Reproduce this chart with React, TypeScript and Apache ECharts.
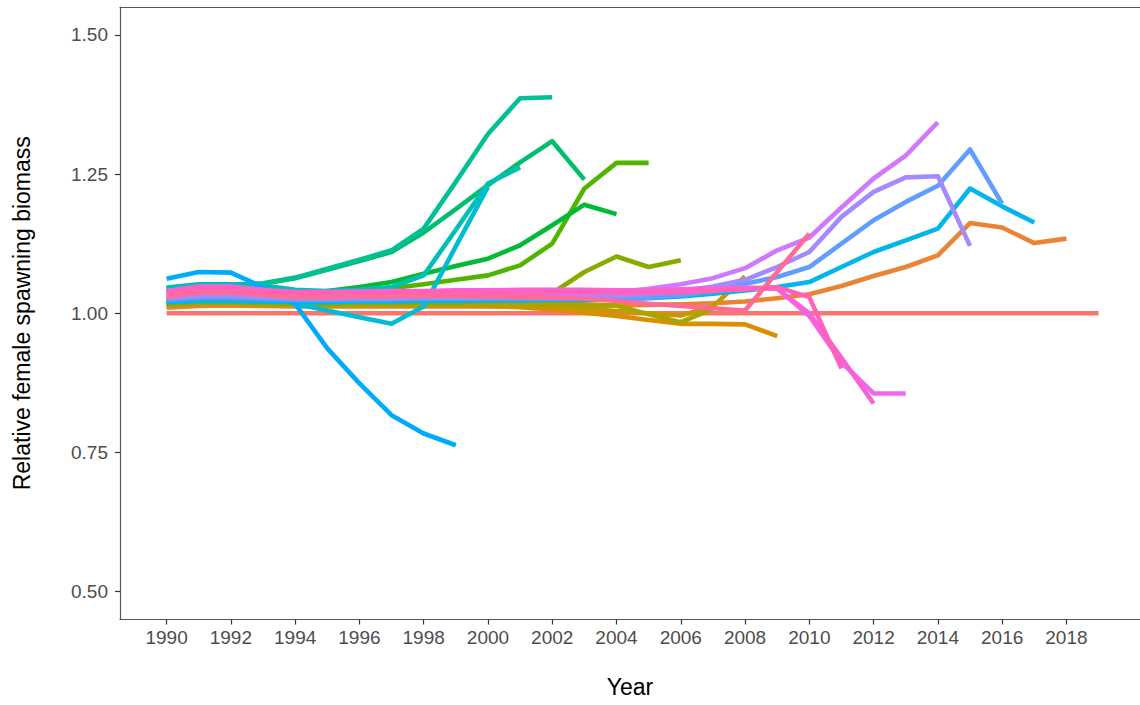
import React, { useEffect, useRef } from "react";
import * as echarts from "echarts";

const years = [1990, 1991, 1992, 1993, 1994, 1995, 1996, 1997, 1998, 1999, 2000, 2001, 2002, 2003, 2004, 2005, 2006, 2007, 2008, 2009, 2010, 2011, 2012, 2013, 2014, 2015, 2016, 2017, 2018, 2019];

const xTickValues = [1990, 1992, 1994, 1996, 1998, 2000, 2002, 2004, 2006, 2008, 2010, 2012, 2014, 2016, 2018];
const yTickValues = [0.5, 0.75, 1.0, 1.25, 1.5];

// Peel labels in the order the legend factor sorts them (as text)
const peelOrder = ["0", "1", "10", "11", "12", "13", "14", "15", "16", "17", "18", "19", "2", "20", "3", "4", "5", "6", "7", "8", "9"];

const peel0 = [1.0, 1.0, 1.0, 1.0, 1.0, 1.0, 1.0, 1.0, 1.0, 1.0, 1.0, 1.0, 1.0, 1.0, 1.0, 1.0, 1.0, 1.0, 1.0, 1.0, 1.0, 1.0, 1.0, 1.0, 1.0, 1.0, 1.0, 1.0, 1.0, 1.0];
const peel1 = [1.010, 1.013, 1.014, 1.013, 1.012, 1.012, 1.012, 1.012, 1.012, 1.012, 1.012, 1.012, 1.013, 1.013, 1.014, 1.015, 1.016, 1.018, 1.021, 1.027, 1.034, 1.049, 1.067, 1.083, 1.104, 1.162, 1.154, 1.126, 1.134];
const peel2 = [1.020, 1.022, 1.022, 1.021, 1.020, 1.020, 1.021, 1.021, 1.022, 1.022, 1.023, 1.023, 1.024, 1.024, 1.025, 1.027, 1.030, 1.035, 1.041, 1.047, 1.056, 1.083, 1.110, 1.131, 1.152, 1.224, 1.192, 1.163];
const peel3 = [1.024, 1.028, 1.028, 1.026, 1.024, 1.024, 1.025, 1.025, 1.026, 1.026, 1.026, 1.026, 1.026, 1.026, 1.026, 1.028, 1.032, 1.040, 1.053, 1.065, 1.083, 1.125, 1.167, 1.200, 1.229, 1.294, 1.197];
const peel4 = [1.027, 1.032, 1.032, 1.029, 1.027, 1.027, 1.028, 1.028, 1.029, 1.029, 1.029, 1.029, 1.030, 1.030, 1.031, 1.034, 1.040, 1.048, 1.060, 1.083, 1.110, 1.173, 1.218, 1.244, 1.246, 1.121];
const peel5 = [1.032, 1.038, 1.038, 1.034, 1.031, 1.031, 1.032, 1.033, 1.034, 1.034, 1.034, 1.035, 1.036, 1.036, 1.038, 1.044, 1.052, 1.063, 1.081, 1.113, 1.136, 1.190, 1.242, 1.283, 1.343];
const peel6 = [1.036, 1.044, 1.044, 1.039, 1.035, 1.035, 1.036, 1.037, 1.037, 1.038, 1.038, 1.039, 1.040, 1.040, 1.040, 1.041, 1.043, 1.045, 1.046, 1.045, 0.995, 0.912, 0.856, 0.856];
const peel7 = [1.040, 1.048, 1.048, 1.042, 1.038, 1.038, 1.039, 1.040, 1.040, 1.041, 1.041, 1.042, 1.042, 1.042, 1.041, 1.041, 1.042, 1.044, 1.045, 1.044, 1.000, 0.920, 0.838];
const peel8 = [1.037, 1.045, 1.045, 1.040, 1.036, 1.036, 1.037, 1.037, 1.038, 1.038, 1.038, 1.038, 1.038, 1.038, 1.037, 1.037, 1.038, 1.040, 1.043, 1.047, 1.029, 0.901];
const peel9 = [1.030, 1.037, 1.037, 1.033, 1.029, 1.029, 1.030, 1.030, 1.031, 1.031, 1.030, 1.029, 1.028, 1.026, 1.022, 1.017, 1.013, 1.009, 1.005, 1.074, 1.143];
const peel10 = [1.014, 1.017, 1.017, 1.015, 1.014, 1.014, 1.014, 1.014, 1.014, 1.014, 1.013, 1.011, 1.007, 1.001, 0.995, 0.988, 0.981, 0.981, 0.980, 0.959];
const peel11 = [1.015, 1.018, 1.018, 1.016, 1.015, 1.015, 1.015, 1.015, 1.015, 1.015, 1.015, 1.014, 1.012, 1.008, 1.004, 1.000, 0.996, 1.012, 1.066];
const peel12 = [1.016, 1.019, 1.019, 1.017, 1.016, 1.016, 1.016, 1.016, 1.016, 1.016, 1.016, 1.016, 1.016, 1.016, 1.014, 0.998, 0.984, 1.008];
const peel13 = [1.017, 1.020, 1.020, 1.018, 1.017, 1.017, 1.018, 1.018, 1.019, 1.020, 1.022, 1.026, 1.036, 1.074, 1.102, 1.083, 1.095];
const peel14 = [1.020, 1.024, 1.024, 1.022, 1.024, 1.030, 1.036, 1.045, 1.052, 1.060, 1.068, 1.086, 1.125, 1.224, 1.270, 1.270];
const peel15 = [1.022, 1.026, 1.026, 1.026, 1.032, 1.040, 1.047, 1.056, 1.071, 1.085, 1.098, 1.122, 1.158, 1.195, 1.178];
const peel16 = [1.044, 1.050, 1.050, 1.053, 1.063, 1.078, 1.094, 1.110, 1.145, 1.187, 1.230, 1.271, 1.309, 1.240];
const peel17 = [1.045, 1.051, 1.051, 1.054, 1.064, 1.080, 1.096, 1.113, 1.152, 1.236, 1.322, 1.386, 1.388];
const peel18 = [1.046, 1.052, 1.052, 1.050, 1.042, 1.040, 1.042, 1.047, 1.068, 1.150, 1.233, 1.262];
const peel19 = [1.040, 1.046, 1.046, 1.036, 1.017, 1.005, 0.993, 0.981, 1.012, 1.120, 1.227];
const peel20 = [1.062, 1.074, 1.073, 1.047, 1.017, 0.937, 0.874, 0.817, 0.784, 0.763];

const peels: Record<string, number[]> = {
  "0": peel0, "1": peel1, "2": peel2, "3": peel3, "4": peel4, "5": peel5, "6": peel6,
  "7": peel7, "8": peel8, "9": peel9, "10": peel10, "11": peel11, "12": peel12, "13": peel13,
  "14": peel14, "15": peel15, "16": peel16, "17": peel17, "18": peel18, "19": peel19, "20": peel20,
};

// ggplot-style hue palette: hcl(h, c = 100, l = 65)
function hclToHex(h: number, c: number, l: number): string {
  const hr = (h * Math.PI) / 180;
  const U = c * Math.cos(hr);
  const V = c * Math.sin(hr);
  const Xn = 95.047, Yn = 100.0, Zn = 108.883;
  const Y = Yn * (l > 8 ? Math.pow((l + 16) / 116, 3) : l / 903.3);
  const denom = Xn + 15 * Yn + 3 * Zn;
  const un = (4 * Xn) / denom;
  const vn = (9 * Yn) / denom;
  const u = U / (13 * l) + un;
  const v = V / (13 * l) + vn;
  const X = (9 * Y * u) / (4 * v);
  const Z = -X / 3 - 5 * Y + (3 * Y) / v;
  const x = X / 100, y = Y / 100, z = Z / 100;
  const lin = [
    3.240479 * x - 1.53715 * y - 0.498535 * z,
    -0.969256 * x + 1.875992 * y + 0.041556 * z,
    0.055648 * x - 0.204043 * y + 1.057311 * z,
  ];
  const out = lin.map((t) => {
    const g = t <= 0.0031308 ? 12.92 * t : 1.055 * Math.pow(t, 1 / 2.4) - 0.055;
    const k = Math.round(Math.min(1, Math.max(0, g)) * 255);
    return k.toString(16).padStart(2, "0");
  });
  return "#" + out.join("");
}

function huePalette(n: number): string[] {
  const cols: string[] = [];
  for (let i = 0; i < n; i++) cols.push(hclToHex(15 + (360 * i) / n, 100, 65));
  return cols;
}

export default function App() {
  const ref = useRef<HTMLDivElement>(null);
  useEffect(() => {
    if (!ref.current) return;
    const chart = echarts.init(ref.current, undefined, { renderer: "svg" });
    const colors = huePalette(peelOrder.length);
    const font = "'Liberation Sans', Arial, sans-serif";
    const lineColor = "#555555";
    const series = peelOrder.map((key, i) => ({
      type: "line",
      name: "peel " + key,
      data: peels[key].map((v, j) => [years[j], v]),
      showSymbol: false,
      symbol: "none",
      lineStyle: { width: 4.6, color: colors[i], join: "round", cap: "butt" },
      itemStyle: { color: colors[i] },
      silent: true,
    }));
    chart.setOption({
      animation: false,
      backgroundColor: "#ffffff",
      grid: {
        left: 120,
        top: 7,
        bottom: 85.5,
        right: 0,
        show: false,
      },
      xAxis: [
        {
          type: "value",
          min: 1988.55,
          max: 2020.29,
          name: "Year",
          nameLocation: "middle",
          nameGap: 56,
          nameTextStyle: { color: "#000000", fontSize: 23, fontFamily: font },
          axisLine: { show: true, onZero: false, lineStyle: { color: lineColor, width: 1.2 } },
          splitLine: { show: false },
          axisTick: { show: true, length: 5, customValues: xTickValues, lineStyle: { color: "#333333", width: 1.2 } },
          axisLabel: {
            customValues: xTickValues,
            margin: 8,
            color: "#4d4d4d",
            fontSize: 19,
            fontFamily: font,
            formatter: (v: number) => String(Math.round(v)),
          },
        },
        {
          type: "value",
          position: "top",
          min: 1988.55,
          max: 2020.29,
          axisLine: { show: true, onZero: false, lineStyle: { color: lineColor, width: 1.2 } },
          axisTick: { show: false },
          axisLabel: { show: false },
          splitLine: { show: false },
        },
      ],
      yAxis: {
        type: "value",
        min: 0.45,
        max: 1.55,
        name: "Relative female spawning biomass",
        nameLocation: "middle",
        nameRotate: 90,
        nameGap: 87,
        nameTextStyle: { color: "#000000", fontSize: 23, fontFamily: font },
        axisLine: { show: true, onZero: false, lineStyle: { color: lineColor, width: 1.2 } },
        splitLine: { show: false },
        axisTick: { show: true, length: 5, customValues: yTickValues, lineStyle: { color: "#333333", width: 1.2 } },
        axisLabel: {
          customValues: yTickValues,
          margin: 12,
          color: "#4d4d4d",
          fontSize: 19,
          fontFamily: font,
          formatter: (v: number) => v.toFixed(2),
        },
      },
      series,
    });
    return () => chart.dispose();
  }, []);
  return (
    <div
      ref={ref}
      style={{ position: "absolute", left: 0, top: 0, width: 1140, height: 705 }}
    />
  );
}
